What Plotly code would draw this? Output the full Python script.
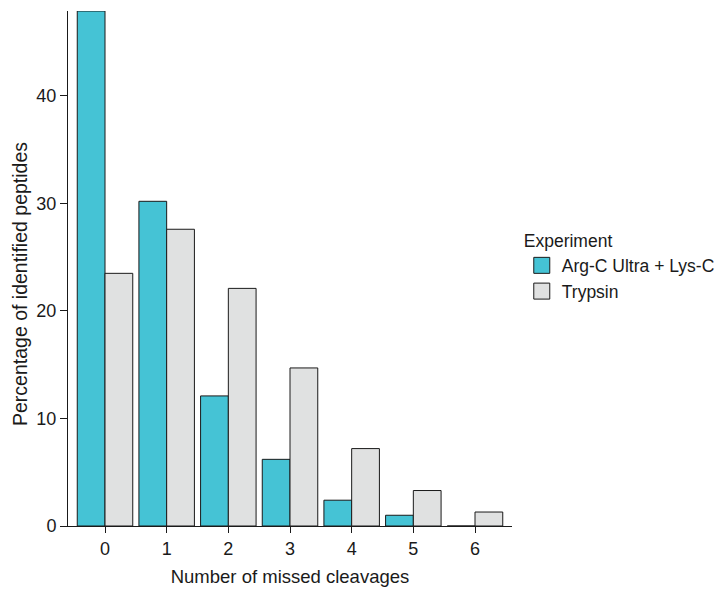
import plotly.graph_objects as go

# Missed cleavages per identified peptide, by digestion protocol
missed_cleavages = [0, 1, 2, 3, 4, 5, 6]
argc_lysc = [47.9, 30.2, 12.1, 6.2, 2.4, 1.0, 0.0]
trypsin = [23.5, 27.6, 22.1, 14.7, 7.2, 3.3, 1.3]

series_names = ["Arg-C Ultra + Lys-C", "Trypsin"]
series_colors = ["#45C3D5", "#E0E1E1"]
y_ticks = [0, 10, 20, 30, 40]

font_family = "Liberation Sans, Arial, sans-serif"
ink = "#1a1a1a"

fig = go.Figure()
for name, values, color in zip(series_names, [argc_lysc, trypsin], series_colors):
    fig.add_trace(go.Bar(
        x=missed_cleavages,
        y=values,
        name=name,
        showlegend=False,
        marker=dict(color=color, line=dict(color=ink, width=1)),
    ))
    # legend key: a larger filled square than the default bar swatch
    fig.add_trace(go.Scatter(
        x=[None],
        y=[None],
        mode="markers",
        name=name,
        marker=dict(symbol="square", size=16, color=color,
                    line=dict(color=ink, width=1)),
    ))

fig.update_layout(
    width=722,
    height=589,
    margin=dict(l=68, r=210, t=11, b=63, autoexpand=False),
    paper_bgcolor="white",
    plot_bgcolor="white",
    barmode="group",
    bargap=0.1,
    bargroupgap=0,
    font=dict(family=font_family, size=18, color=ink),
    legend=dict(
        title=dict(text="Experiment", font=dict(size=17.5)),
        x=1.022,
        xanchor="left",
        y=0.585,
        yanchor="top",
        font=dict(size=17.5),
        itemsizing="trace",
        bgcolor="rgba(0,0,0,0)",
    ),
    xaxis=dict(
        range=[-0.6, 6.6],
        tickmode="array",
        tickvals=missed_cleavages,
        ticktext=[str(v) for v in missed_cleavages],
        tickfont=dict(size=18),
        showline=True,
        linecolor=ink,
        linewidth=1,
        ticks="outside",
        ticklen=6,
        tickcolor=ink,
        showgrid=False,
        zeroline=False,
        automargin=False,
        title=dict(text="Number of missed cleavages", font=dict(size=18.5), standoff=12),
    ),
    yaxis=dict(
        range=[0, 47.9],
        tickvals=y_ticks,
        tickfont=dict(size=18),
        showline=True,
        linecolor=ink,
        linewidth=1,
        ticks="outside",
        ticklen=7,
        tickcolor=ink,
        showgrid=False,
        zeroline=False,
        automargin=False,
    ),
    annotations=[dict(
        text="Percentage of identified peptides",
        textangle=-90,
        xref="paper",
        yref="paper",
        x=-0.108,
        y=0.47,
        xanchor="center",
        yanchor="middle",
        showarrow=False,
        font=dict(size=19.5),
    )],
)

fig.write_html("out.html")
